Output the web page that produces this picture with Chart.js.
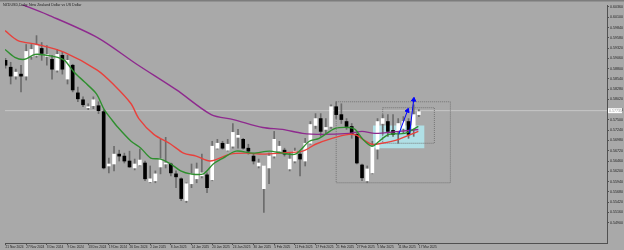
<!DOCTYPE html>
<html>
<head>
<meta charset="utf-8">
<script src="https://cdn.jsdelivr.net/npm/chart.js@4.4.1/dist/chart.umd.min.js"></script>
<style>
  html, body { margin: 0; padding: 0; background: #a9a9a9; }
</style>
</head>
<body>
<canvas id="chart" width="624" height="250"></canvas>
<script>
const chartTitle = "NZDUSD,Daily: New Zealand Dollar vs US Dollar";

// daily candles, 21 Nov 2024 .. 17 Mar 2025 (bar index 0..80)
const opens = [0.59010,0.58835,0.58610,0.58660,0.58610,0.59110,0.59135,0.59310,0.59110,0.59035,
  0.58760,0.59135,0.58535,0.58885,0.58185,0.58010,0.57810,0.57860,0.57860,0.57710,
  0.56335,0.56385,0.56635,0.56585,0.56460,0.56285,0.56360,0.56410,0.55935,0.55960,
  0.56310,0.56385,0.56385,0.56135,0.56010,0.55460,0.55885,0.56010,0.56085,0.56110,
  0.55985,0.56785,0.56910,0.56735,0.56835,0.57060,0.57010,0.56785,0.56585,0.56335,
  0.55760,0.56285,0.56585,0.56710,0.56735,0.56260,0.56460,0.56635,0.56460,0.56910,
  0.57360,0.57535,0.57260,0.57335,0.57835,0.57635,0.57460,0.57335,0.57135,0.56360,
  0.55960,0.56160,0.56760,0.57410,0.57460,0.57235,0.57210,0.57285,0.57460,0.57285,
  0.57635];
const highs = [0.59060,0.58960,0.58785,0.58885,0.59410,0.59410,0.59635,0.59460,0.59385,0.59135,
  0.59285,0.59235,0.59135,0.58910,0.58335,0.58085,0.57910,0.58085,0.57960,0.57760,
  0.56535,0.56835,0.56735,0.56660,0.56710,0.56510,0.56760,0.56460,0.56335,0.56210,
  0.57010,0.57060,0.56410,0.56210,0.56035,0.55910,0.56385,0.56410,0.56635,0.56160,
  0.56960,0.57010,0.56960,0.57010,0.57410,0.57260,0.57035,0.56885,0.56660,0.56510,
  0.56335,0.56660,0.57210,0.56960,0.56785,0.56660,0.56785,0.56710,0.57035,0.57460,
  0.57660,0.57660,0.57535,0.57885,0.57960,0.57910,0.57535,0.57410,0.57210,0.56385,
  0.56335,0.56960,0.57535,0.57635,0.57635,0.57635,0.57535,0.57585,0.57535,0.57885,
  0.57760];
const lows = [0.58810,0.58410,0.58535,0.58210,0.58510,0.59035,0.59085,0.59010,0.58885,0.58535,
  0.58710,0.58660,0.58410,0.58210,0.57960,0.57835,0.57760,0.57785,0.57660,0.56260,
  0.56160,0.56210,0.56460,0.56410,0.56300,0.56235,0.56335,0.55960,0.55910,0.55910,
  0.56135,0.56285,0.56085,0.55785,0.55460,0.55410,0.55785,0.55910,0.56035,0.55660,
  0.55960,0.56760,0.56760,0.56710,0.56785,0.56785,0.56760,0.56635,0.56385,0.56285,
  0.55160,0.55885,0.56535,0.56660,0.56585,0.56210,0.56410,0.56085,0.56335,0.56885,
  0.57285,0.57085,0.57135,0.57285,0.57535,0.57410,0.57260,0.57035,0.56385,0.55960,
  0.55910,0.56135,0.56510,0.57135,0.57085,0.57085,0.56910,0.57160,0.57035,0.57085,
  0.57585];
const closes = [0.58885,0.58610,0.58710,0.58610,0.59235,0.59285,0.59385,0.59185,0.59160,0.58785,
  0.59160,0.58785,0.59010,0.58260,0.58035,0.57885,0.57835,0.58010,0.57735,0.56285,
  0.56385,0.56635,0.56585,0.56460,0.56310,0.56385,0.56485,0.56010,0.56010,0.56135,
  0.56510,0.56410,0.56160,0.56060,0.55510,0.55885,0.56135,0.56260,0.56160,0.55785,
  0.56835,0.56910,0.56785,0.56885,0.57185,0.57110,0.56785,0.56710,0.56460,0.56410,
  0.56335,0.56585,0.57010,0.56835,0.56635,0.56510,0.56710,0.56510,0.56910,0.57385,
  0.57535,0.57210,0.57310,0.57835,0.57635,0.57510,0.57335,0.57135,0.56410,0.56035,
  0.56260,0.56835,0.57460,0.57535,0.57210,0.57135,0.57410,0.57460,0.57135,0.57635,
  0.57710];

// moving averages (bar position, price)
const slowMaX = [-0.1,2.4,8.2,17.8,25.4,33.1,39.8,44.1,49.8,53.6,57.5,61.3,66.5,69.0,71.5,76.1,79.9];
const slowMaY = [0.60585,0.60460,0.60160,0.59585,0.58910,0.58260,0.57635,0.57510,0.57310,0.57260,0.57160,0.57135,0.57160,0.57210,0.57160,0.57210,0.57260];
const midMaX = [-0.1,2.4,6.2,11.4,17.75,21.0,24.3,25.8,28.7,32.0,34.45,36.9,39.6,43.5,46.5,49.8,53.1,57.5,60.0,63.2,66.5,68.0,69.4,70.9,72.8,76.1,79.9];
const midMaY = [0.59760,0.59510,0.59410,0.59210,0.58760,0.58385,0.57910,0.57535,0.57135,0.56885,0.56660,0.56585,0.56460,0.56635,0.56660,0.56635,0.56660,0.56710,0.56885,0.57035,0.57135,0.57110,0.56985,0.56885,0.56910,0.57010,0.57210];
const fastMaX = [-0.1,1.8,3.7,5.7,8.15,10.1,11.4,13.3,15.3,17.6,19.1,20.4,21.6,24.3,26.2,28.1,30.0,32.0,33.9,35.8,38.3,40.2,42.1,44.6,47.9,51.1,53.6,56.1,58.8,60.7,63.8,66.5,67.7,69.0,70.9,72.3,74.2,77.25,79.9];
const fastMaY = [0.59285,0.59085,0.59035,0.59160,0.59135,0.59085,0.59010,0.58710,0.58460,0.58160,0.57760,0.57535,0.57335,0.56960,0.56785,0.56535,0.56510,0.56385,0.56210,0.56135,0.56135,0.56385,0.56535,0.56710,0.56660,0.56710,0.56660,0.56635,0.56960,0.57035,0.57285,0.57310,0.57260,0.57035,0.56835,0.56960,0.57135,0.57160,0.57335];

// objects drawn on the chart
const bidPrice = 0.57735;
const rangeBoxX = [64.0, 86.1], rangeBoxY = [0.57960, 0.55910];
const innerBoxX = [73.0, 83.0], innerBoxY = [0.57810, 0.56910];
const zoneX = [71.1, 81.1], zoneY = [0.57360, 0.56785];
const arrow1X = [76.1, 77.8], arrow1Y = [0.57135, 0.57735];
const arrow2X = [78.2, 79.0], arrow2Y = [0.57160, 0.58010];

// axes
const dateBars = [0,4,8,12,16,20,24,28,32,36,40,44,48,52,56,60,64,68,72,76,80];
const dateLabels = ["21 Nov 2024","27 Nov 2024","3 Dec 2024","9 Dec 2024","13 Dec 2024","19 Dec 2024",
  "26 Dec 2024","2 Jan 2025","8 Jan 2025","14 Jan 2025","20 Jan 2025","24 Jan 2025","30 Jan 2025",
  "5 Feb 2025","11 Feb 2025","17 Feb 2025","21 Feb 2025","27 Feb 2025","5 Mar 2025","11 Mar 2025","17 Mar 2025"];
const priceTicks = [0.60360,0.60100,0.59840,0.59580,0.59320,0.59060,0.58800,0.58540,0.58280,0.58020,
  0.57760,0.57500,0.57240,0.56980,0.56720,0.56460,0.56200,0.55940,0.55680,0.55420,0.55160,0.54900];

const xMin = -0.1, xMax = 116.41;
const yMin = 0.54385, yMax = 0.60410;

const toPoints = (xs, ys) => xs.map((x, i) => ({ x: x, y: ys[i] }));
const boxPath = (xs, ys) => [
  { x: xs[0], y: ys[0] }, { x: xs[1], y: ys[0] }, { x: xs[1], y: ys[1] },
  { x: xs[0], y: ys[1] }, { x: xs[0], y: ys[0] }
];

const axisColor = "#505050";
const textColor = "#1e1e1e";
const smallFont = "Liberation Sans";

const chartFrame = {
  id: "chartFrame",
  beforeDraw(chart) {
    const ctx = chart.ctx;
    ctx.save();
    ctx.fillStyle = "#a9a9a9";
    ctx.fillRect(0, 0, chart.width, chart.height);
    ctx.fillStyle = "#7c7c7c";
    ctx.fillRect(0, 0, chart.width, 1.5);
    ctx.restore();
  },
  afterDraw(chart) {
    const ctx = chart.ctx;
    const area = chart.chartArea;
    const y = chart.scales.y.getPixelForValue(bidPrice);
    ctx.save();
    ctx.font = '3.6px "' + smallFont + '"';
    ctx.fillStyle = textColor;
    ctx.textBaseline = "top";
    ctx.fillText(chartTitle, 3, 3);
    ctx.fillStyle = "#ffffff";
    ctx.fillRect(area.right + 1, y - 2.5, 14, 5);
    ctx.fillStyle = "#9a9a9a";
    ctx.textBaseline = "middle";
    ctx.fillText(bidPrice.toFixed(5), area.right + 2, y);
    ctx.restore();
  }
};

new Chart(document.getElementById("chart"), {
  type: "bar",
  data: {
    datasets: [
      {
        type: "line", order: 10,
        data: toPoints(zoneX, [zoneY[0], zoneY[0]]),
        borderWidth: 0, pointRadius: 0,
        fill: { value: zoneY[1] }, backgroundColor: "#b0e0e6"
      },
      {
        type: "line", order: 9,
        data: toPoints([xMin, xMax], [bidPrice, bidPrice]),
        borderColor: "#c6c6c6", borderWidth: 1, pointRadius: 0
      },
      {
        type: "line", order: 8,
        data: boxPath(rangeBoxX, rangeBoxY),
        borderColor: "#747474", borderWidth: 1, borderDash: [1, 1], pointRadius: 0, tension: 0
      },
      {
        type: "line", order: 8,
        data: boxPath(innerBoxX, innerBoxY),
        borderColor: "#747474", borderWidth: 1, borderDash: [1, 1], pointRadius: 0, tension: 0
      },
      {
        type: "bar", order: 6, grouped: false,
        data: lows.map((l, i) => ({ x: i, y: [l, highs[i]] })),
        barThickness: 1, backgroundColor: "#6c6c6c", borderWidth: 0
      },
      {
        type: "bar", order: 5, grouped: false,
        data: opens.map((o, i) => ({ x: i, y: [o, closes[i]] })),
        barThickness: 3, minBarLength: 1, borderWidth: 0,
        backgroundColor: opens.map((o, i) => closes[i] >= o ? "#ffffff" : "#000000")
      },
      {
        type: "line", order: 3,
        data: toPoints(slowMaX, slowMaY),
        borderColor: "#8e2a8e", borderWidth: 1.4, pointRadius: 0, tension: 0.3
      },
      {
        type: "line", order: 2,
        data: toPoints(midMaX, midMaY),
        borderColor: "#e8413c", borderWidth: 1.4, pointRadius: 0, tension: 0.3
      },
      {
        type: "line", order: 1,
        data: toPoints(fastMaX, fastMaY),
        borderColor: "#2f8f2f", borderWidth: 1.4, pointRadius: 0, tension: 0.3
      },
      {
        type: "line", order: 0,
        data: toPoints(arrow1X, arrow1Y),
        borderColor: "#0000ff", borderWidth: 1,
        pointStyle: "triangle", pointRadius: [0, 2.5], pointRotation: [0, 21],
        pointBackgroundColor: "#0000ff", pointBorderColor: "#0000ff"
      },
      {
        type: "line", order: 0,
        data: toPoints(arrow2X, arrow2Y),
        borderColor: "#0000ff", borderWidth: 1,
        pointStyle: "triangle", pointRadius: [0, 2.5], pointRotation: [0, 7],
        pointBackgroundColor: "#0000ff", pointBorderColor: "#0000ff"
      }
    ]
  },
  options: {
    responsive: false,
    animation: false,
    layout: { padding: { top: 2, left: 0, right: 0, bottom: 0 } },
    plugins: { legend: { display: false }, tooltip: { enabled: false }, title: { display: false } },
    scales: {
      x: {
        type: "linear", min: xMin, max: xMax, offset: false,
        afterBuildTicks: s => { s.ticks = dateBars.map(v => ({ value: v })); },
        afterFit: s => { s.height = 7; },
        ticks: {
          autoSkip: false, maxRotation: 0, minRotation: 0, align: "start", padding: 0,
          font: { size: 3.2, family: smallFont }, color: textColor,
          callback: v => dateLabels[dateBars.indexOf(v)]
        },
        grid: { drawOnChartArea: false, offset: false, tickLength: 2, color: axisColor },
        border: { display: true, color: axisColor, width: 1 }
      },
      y: {
        position: "right", min: yMin, max: yMax, beginAtZero: false,
        afterBuildTicks: s => { s.ticks = priceTicks.map(v => ({ value: v })); },
        afterFit: s => { s.width = 17; },
        ticks: {
          autoSkip: false, padding: 1,
          font: { size: 3.6, family: smallFont }, color: textColor,
          callback: v => v.toFixed(5)
        },
        grid: { drawOnChartArea: false, tickLength: 2, color: axisColor },
        border: { display: true, color: axisColor, width: 1 }
      }
    }
  },
  plugins: [chartFrame]
});
</script>
</body>
</html>
